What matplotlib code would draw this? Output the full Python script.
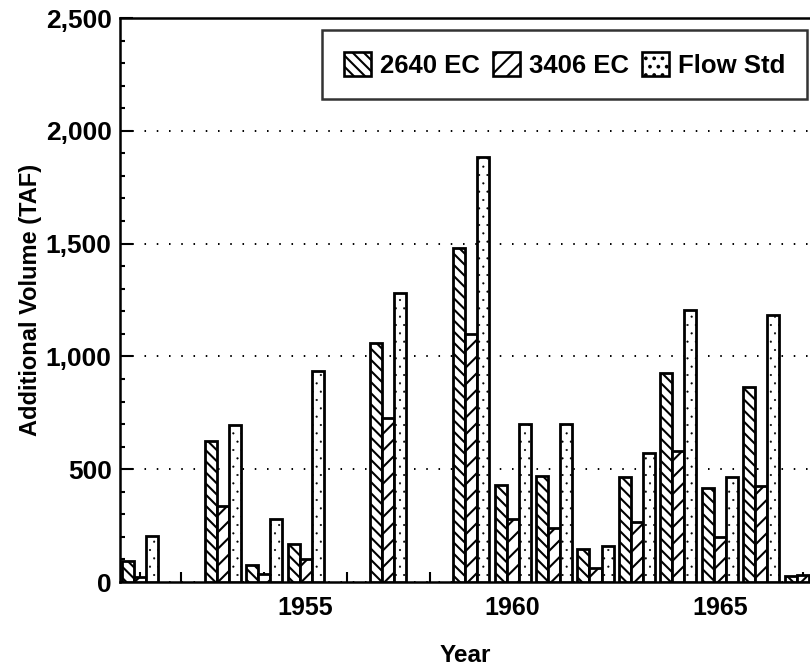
import numpy as np
import matplotlib
matplotlib.use("Agg")
import matplotlib.pyplot as plt
import matplotlib.patches as mpatches
from matplotlib.ticker import FixedLocator, FuncFormatter, MultipleLocator

plt.rcParams['font.family'] = ['Liberation Sans', 'DejaVu Sans']
plt.rcParams['font.weight'] = 'bold'
plt.rcParams['hatch.linewidth'] = 1.5

# Données (TAF)
annees = [1951, 1952, 1953, 1954, 1955, 1956, 1957, 1958, 1959,
          1960, 1961, 1962, 1963, 1964, 1965, 1966, 1967]
ec_2640 = [93, 0, 625, 75, 168, 0, 1060, 0, 1480,
           430, 470, 148, 465, 926, 416, 864, 25]
ec_3406 = [22, 0, 337, 35, 102, 0, 727, 0, 1100,
           279, 240, 62, 266, 580, 199, 425, 30]
flow_std = [204, 0, 695, 279, 935, 0, 1280, 0, 1883,
            700, 700, 160, 571, 1205, 465, 1185, 0]

series = [
    ("2640 EC", ec_2640, '\\\\\\'),
    ("3406 EC", ec_3406, '//'),
    ("Flow Std", flow_std, '..'),
]

def fixe_hachure(p, motif):
    # points fins pour Flow Std
    if motif.startswith('.'):
        try:
            p.set_hatch_linewidth(0.3)
        except AttributeError:
            pass

fig = plt.figure(figsize=(8.1, 6.65), dpi=100)
ax = fig.add_axes([120 / 810, 83 / 665, 690 / 810, 564 / 665])

x = np.array(annees, dtype=float)
largeur = 0.29
for k, (nom, vals, motif) in enumerate(series):
    vals = np.array(vals, dtype=float)
    masque = vals > 0
    barres = ax.bar(x[masque] + (k - 1) * largeur, vals[masque], width=largeur,
                    facecolor='white', edgecolor='black', linewidth=2.0,
                    hatch=motif, zorder=3)
    for b in barres:
        fixe_hachure(b, motif)

ax.set_xlim(1950.517, 1967.18)
ax.set_ylim(0, 2500)

# Axes et graduations
ax.xaxis.set_major_locator(FixedLocator([1955, 1960, 1965]))
ax.xaxis.set_minor_locator(FixedLocator(annees))
ax.yaxis.set_major_locator(MultipleLocator(500))
ax.yaxis.set_minor_locator(MultipleLocator(100))
ax.yaxis.set_major_formatter(FuncFormatter(lambda v, p: f"{int(v):,}"))

ax.tick_params(axis='x', which='both', direction='in', length=7,
               width=1.5, pad=10, labelsize=18)
ax.tick_params(axis='y', which='major', direction='in', length=9,
               width=1.5, pad=6, labelsize=19)
ax.tick_params(axis='y', which='minor', direction='in', length=3.6, width=1.5)

for cote in ['left', 'bottom', 'top']:
    ax.spines[cote].set_linewidth(1.8)
ax.spines['right'].set_visible(False)

ax.yaxis.grid(True, which='major', color='black',
              linestyle=(0, (0.8, 5.5)), linewidth=1.4, zorder=0)
ax.set_axisbelow(True)

ax.set_xlabel("Year", fontsize=17.5, fontweight='bold', labelpad=17)
ax.set_ylabel("Additional Volume (TAF)", fontsize=17, fontweight='bold')
ax.yaxis.set_label_coords(-0.113, 0.5)

# Légende
poignees = []
for n, v, m in series:
    p = mpatches.Patch(facecolor='white', edgecolor='black',
                       linewidth=1.9, hatch=m, label=n)
    fixe_hachure(p, m)
    poignees.append(p)
leg = ax.legend(handles=poignees, loc='upper right', ncol=3,
                bbox_to_anchor=(0.9957, 0.9787), borderaxespad=0,
                frameon=True, fancybox=False, handlelength=1.05,
                handleheight=1.05, handletextpad=0.35, columnspacing=0.5,
                borderpad=0.85, prop={'weight': 'bold', 'size': 18.5})
leg.get_frame().set_edgecolor('black')
leg.get_frame().set_linewidth(1.8)

fig.savefig("out.png", dpi=100)
